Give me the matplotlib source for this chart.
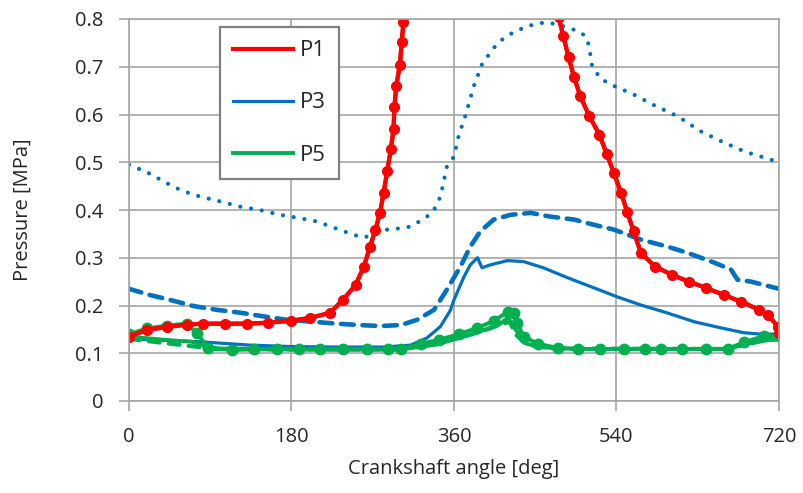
import matplotlib.pyplot as plt
import numpy as np

plt.rcParams['font.family'] = ['Open Sans', 'DejaVu Sans']

### Values (angle in deg, pressure in MPa).
p1_angle = [0, 20, 42, 64, 82, 106, 131, 154, 179, 201, 223, 237, 251, 260, 267, 273, 278, 282, 286, 290,
            293, 294, 296, 300, 302, 304, 307, np.nan, 473, 476, 481, 487, 493, 500, 510, 521, 529, 537, 545,
            552, 559, 567, 583, 602, 620, 639, 659, 678, 698, 708, 719, 720]
p1_value = [0.135, 0.149, 0.155, 0.16, 0.162, 0.162, 0.162, 0.164, 0.168, 0.174, 0.185, 0.212, 0.243, 0.281,
            0.323, 0.359, 0.394, 0.436, 0.481, 0.527, 0.569, 0.615, 0.66, 0.703, 0.751, 0.793, 0.85, np.nan,
            0.85, 0.804, 0.764, 0.72, 0.678, 0.638, 0.596, 0.558, 0.518, 0.478, 0.436, 0.395, 0.355, 0.31,
            0.281, 0.264, 0.25, 0.237, 0.222, 0.208, 0.191, 0.18, 0.155, 0.142]

p3_angle = [0, 40, 79, 134, 180, 227, 282, 312, 330, 345, 356, 360, 371, 378, 386, 391, 400, 419, 437, 459,
            486, 515, 541, 567, 597, 626, 656, 681, 700, 720]
p3_value = [0.13, 0.127, 0.124, 0.117, 0.114, 0.113, 0.113, 0.117, 0.132, 0.156, 0.19, 0.212, 0.26, 0.285,
            0.30, 0.279, 0.285, 0.294, 0.292, 0.279, 0.258, 0.237, 0.218, 0.201, 0.184, 0.166, 0.153, 0.143,
            0.14, 0.14]

p3_dash_angle = [0, 23, 45, 71, 97, 123, 153, 175, 204, 230, 256, 278, 301, 319, 338, 352, 367, 378, 389,
                 404, 423, 445, 467, 493, 515, 537, 567, 597, 619, 648, 667, 674, 689, 720]
p3_dash_value = [0.235, 0.222, 0.212, 0.199, 0.191, 0.185, 0.176, 0.17, 0.166, 0.162, 0.159, 0.157, 0.159,
                 0.17, 0.191, 0.233, 0.281, 0.323, 0.355, 0.38, 0.39, 0.394, 0.386, 0.38, 0.369, 0.359,
                 0.338, 0.323, 0.31, 0.29, 0.275, 0.254, 0.25, 0.235]

p3_dot_angle = [0, 21, 40, 59, 79, 101, 123, 145, 167, 186, 208, 227, 249, 260, 275, 286, 308, 326, 337,
                345, 352, 360, 365, 373, 382, 391, 403, 411, 428, 450, 464, 481, 497, 506, 509, 511, 513,
                523, 537, 559, 581, 608, 633, 656, 681, 720]
p3_dot_value = [0.495, 0.478, 0.458, 0.44, 0.428, 0.418, 0.407, 0.40, 0.39, 0.384, 0.376, 0.363, 0.348,
                0.342, 0.352, 0.359, 0.363, 0.38, 0.397, 0.428, 0.49, 0.512, 0.554, 0.60, 0.66, 0.705,
                0.737, 0.754, 0.775, 0.79, 0.793, 0.785, 0.775, 0.764, 0.747, 0.726, 0.70, 0.674, 0.66,
                0.642, 0.62, 0.596, 0.565, 0.544, 0.523, 0.50]

p5_angle = [0, 40, 70, 85, 100, 200, 300, 340, 380, 410, 420, 428, 440, 460, 500, 660, 680, 700, 720]
p5_value = [0.135, 0.128, 0.124, 0.114, 0.11, 0.108, 0.108, 0.118, 0.14, 0.16, 0.175, 0.15, 0.12, 0.112,
            0.109, 0.109, 0.118, 0.126, 0.13]

p5_mark_angle = [0, 20, 42, 64, 75, 88, 114, 138, 164, 188, 212, 237, 264, 287, 301, 323, 343, 365, 386,
                 404, 420, 426, 430, 437, 453, 475, 497, 522, 548, 572, 589, 613, 639, 663, 681, 703, 720]
p5_mark_value = [0.14, 0.152, 0.158, 0.162, 0.142, 0.111, 0.107, 0.108, 0.108, 0.108, 0.108, 0.108, 0.108,
                 0.108, 0.108, 0.12, 0.128, 0.14, 0.153, 0.168, 0.187, 0.184, 0.164, 0.135, 0.12, 0.111,
                 0.109, 0.109, 0.109, 0.109, 0.109, 0.109, 0.109, 0.109, 0.123, 0.136, 0.136]

p5_dash_angle = [0, 100, 300, 350, 380, 400, 415, 422, 428, 440, 470, 660, 700, 720]
p5_dash_value = [0.13, 0.108, 0.108, 0.125, 0.14, 0.152, 0.163, 0.165, 0.14, 0.118, 0.11, 0.109, 0.125, 0.13]

x_ticks = [0, 180, 360, 540, 720]
y_ticks = [0, 0.1, 0.2, 0.3, 0.4, 0.5, 0.6, 0.7, 0.8]

red = '#FF0000'
blue = '#0070C0'
green = '#00B050'
grid_c = '#A6A6A6'
text_c = '#262626'

fig = plt.figure(figsize=(8.04, 4.93), dpi=100)
ax = fig.add_axes([129 / 804, 1 - 401 / 493, 650 / 804, 382 / 493])

### Blue P3 family
ax.plot(p3_dot_angle, p3_dot_value, color=blue, lw=3.0, linestyle=(0, (0.01, 2.6)),
        dash_capstyle='round')
ax.plot(p3_dash_angle, p3_dash_value, color=blue, lw=3.3, linestyle=(0, (2.8, 1.9)),
        dash_capstyle='round')
ax.plot(p3_angle, p3_value, color=blue, lw=2.3, label='P3')

### Green P5 family
ax.plot(p5_dash_angle, p5_dash_value, color=green, lw=3.0, linestyle=(0, (2.6, 2.2)),
        dash_capstyle='round')
ax.plot(p5_angle, p5_value, color=green, lw=2.8, label='P5')
ax.plot(p5_mark_angle, p5_mark_value, color=green, lw=2.8, marker='o', markersize=7.5)

### Red P1
ax.plot(p1_angle, p1_value, color=red, lw=3.0, label='P1')
ax.plot(p1_angle, p1_value, color=red, lw=3.0, marker='o', markersize=7)

ax.set_xlim(0, 720)
ax.set_ylim(0, 0.8)
ax.set_xticks(x_ticks)
ax.set_yticks(y_ticks)
ax.set_yticklabels(['0'] + ['%.1f' % v for v in y_ticks[1:]])
ax.grid(True, color=grid_c, linewidth=1.2)
ax.set_axisbelow(True)
for s in ax.spines.values():
    s.set_color(grid_c)
    s.set_linewidth(1.2)
ax.tick_params(axis='both', colors=grid_c, labelcolor=text_c, labelsize=14.5, length=7, width=1.2)
ax.tick_params(axis='x', pad=12)
ax.tick_params(axis='y', pad=11.5)

ax.set_xlabel('Crankshaft angle [deg]', fontsize=14.5, color=text_c)
ax.set_ylabel('Pressure [MPa]', fontsize=14.5, color=text_c)
ax.xaxis.set_label_coords(0.5, -0.152)
ax.yaxis.set_label_coords(-0.148, 0.5)

handles, labels = ax.get_legend_handles_labels()
order = [labels.index(l) for l in ['P1', 'P3', 'P5']]
leg = ax.legend([handles[i] for i in order], ['P1', 'P3', 'P5'], loc='upper left',
                bbox_to_anchor=(0.14, 0.979), borderaxespad=0, fontsize=16, frameon=True,
                fancybox=False, edgecolor='#808080', framealpha=1, handlelength=2.7,
                handletextpad=0.3, labelspacing=1.4, borderpad=0.6)
leg.get_frame().set_linewidth(1.6)
for t in leg.get_texts():
    t.set_color(text_c)

plt.savefig('out.png')
